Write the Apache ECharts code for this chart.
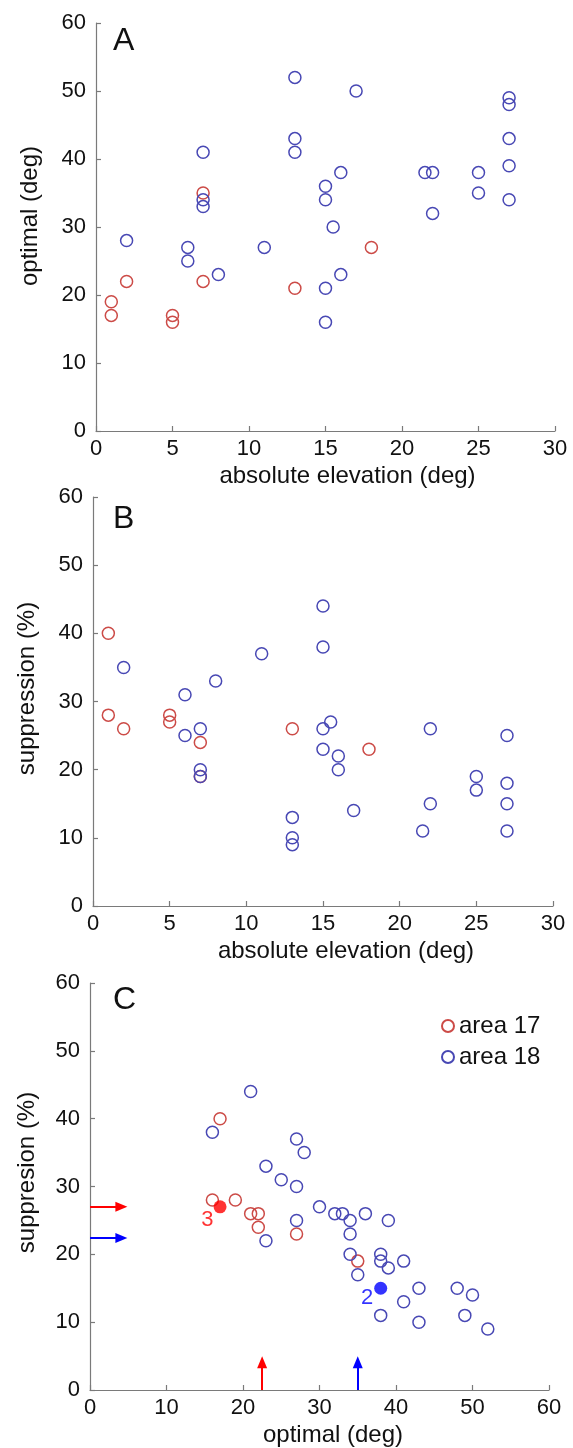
<!DOCTYPE html>
<html>
<head>
<meta charset="utf-8">
<script src="https://cdn.jsdelivr.net/npm/echarts@6/dist/echarts.min.js"></script>
<style>
html,body{margin:0;padding:0;background:#fff;}
#chart{width:573px;height:1448px;}
</style>
</head>
<body>
<div id="chart"></div>
<script>
// ---------- data ----------
// Panel A : absolute elevation vs optimal
const elevA17 = [1, 1, 2, 5, 5, 7, 7, 13, 18];
const optA17  = [19, 17, 22, 17, 16, 35, 22, 21, 27];
const elevA18 = [2, 6, 6, 7, 7, 7, 8, 11, 13, 13, 13, 15, 15, 15, 15, 15.5, 16, 16, 17, 21.5, 22, 22, 25, 25, 27, 27, 27, 27, 27];
const optA18  = [28, 27, 25, 41, 34, 33, 23, 27, 52, 43, 41, 36, 34, 21, 16, 30, 38, 23, 50, 38, 38, 32, 38, 35, 49, 48, 43, 39, 34];
// Panel B : absolute elevation vs suppression
const elevB17 = [1, 1, 2, 5, 5, 7, 7, 13, 18];
const suppB17 = [40, 28, 26, 28, 27, 24, 19, 26, 23];
const elevB18 = [2, 6, 6, 7, 7, 7, 8, 11, 13, 13, 13, 15, 15, 15, 15, 15.5, 16, 16, 17, 21.5, 22, 22, 25, 25, 27, 27, 27, 27];
const suppB18 = [35, 31, 25, 26, 20, 19, 33, 37, 13, 10, 9, 44, 38, 26, 23, 27, 22, 20, 14, 11, 26, 15, 19, 17, 25, 18, 15, 11];
// Panel C : optimal vs suppression
const optC17  = [16, 17, 19, 21, 22, 22, 27, 35];
const suppC17 = [28, 40, 28, 26, 26, 24, 23, 19];
const optC18  = [21, 16, 27, 28, 23, 25, 27, 23, 27, 30, 32, 33, 34, 36, 39, 34, 34, 35, 38, 38, 39, 41, 43, 41, 38, 43, 48, 50, 49, 52];
const suppC18 = [44, 38, 37, 35, 33, 31, 30, 22, 25, 27, 26, 26, 25, 26, 25, 23, 20, 17, 20, 19, 18, 19, 15, 13, 11, 10, 15, 14, 11, 9];
// example cells (filled)
const exampleOpt   = [17, 38];
const exampleSupp  = [27, 15];
const exampleLabel = ['3', '2'];
// arrows: population values (area 17, area 18)
const arrowSupp = [27, 22.4];
const arrowOpt  = [22.5, 35];
// tick labels / titles
const panelLetters = ['A', 'B', 'C'];
const legendNames = ['area 17', 'area 18'];

// ---------- styling ----------
const FONT = "'Liberation Sans', Arial, Helvetica, sans-serif";
const RED = '#cc4b47';
const BLUE = '#4848b4';
const RED_F = '#ff0000';
const BLUE_F = '#0000ff';
const AXIS = '#7a7a7a';

const zip = (a, b) => a.map((v, i) => [v, b[i]]);

function xAx(idx, max, interval, name, padLeft) {
  return {
    type: 'value', gridIndex: idx, min: 0, max: max, interval: interval,
    name: name, nameLocation: 'middle', nameGap: 33,
    nameTextStyle: { fontFamily: FONT, fontSize: 24, color: '#111', padding: [0, 0, 0, padLeft] },
    axisLine: { show: true, onZero: false, lineStyle: { color: AXIS, width: 1.2 } },
    axisTick: { show: true, inside: true, length: 5, lineStyle: { color: AXIS, width: 1.2 } },
    axisLabel: { fontFamily: FONT, fontSize: 22, color: '#111', margin: 7 },
    splitLine: { show: false }
  };
}
function yAx(idx, name, gap, padLeft) {
  return {
    type: 'value', gridIndex: idx, min: 0, max: 60, interval: 10,
    name: name, nameLocation: 'middle', nameGap: gap, nameRotate: 90,
    nameTextStyle: { fontFamily: FONT, fontSize: 24, color: '#111', padding: [0, 0, 0, padLeft] },
    axisLine: { show: true, onZero: false, lineStyle: { color: AXIS, width: 1.2 } },
    axisTick: { show: true, inside: true, length: 5, lineStyle: { color: AXIS, width: 1.2 } },
    axisLabel: { fontFamily: FONT, fontSize: 22, color: '#111', margin: 10 },
    splitLine: { show: false }
  };
}
function sc(name, idx, data, color) {
  return {
    type: 'scatter', name: name, xAxisIndex: idx, yAxisIndex: idx, data: data,
    symbol: 'circle', symbolSize: 12,
    itemStyle: { color: 'rgba(255,255,255,0)', borderColor: color, borderWidth: 1.5, opacity: 1 },
    emphasis: { disabled: true }, silent: true
  };
}

const arrowStyle = c => ({ color: c, width: 2, type: 'solid' });

const option = {
  animation: false,
  backgroundColor: '#fff',
  grid: [
    { left: 96, top: 23, width: 459, height: 408 },
    { left: 93, top: 497, width: 460, height: 409 },
    { left: 90, top: 983, width: 459, height: 408 }
  ],
  xAxis: [
    xAx(0, 30, 5, 'absolute elevation (deg)', 44),
    xAx(1, 30, 5, 'absolute elevation (deg)', 46),
    xAx(2, 60, 10, 'optimal (deg)', 27)
  ],
  yAxis: [
    yAx(0, 'optimal (deg)', 54, 22),
    yAx(1, 'suppression (%)', 54, 26),
    yAx(2, 'suppresion (%)', 51, 28)
  ],
  legend: {
    orient: 'vertical', left: 436, top: 1009, itemWidth: 12, itemHeight: 12, itemGap: 7,
    textStyle: { fontFamily: FONT, fontSize: 24, color: '#111' },
    data: legendNames, selectedMode: false
  },
  graphic: panelLetters.map((t, i) => ({
    type: 'text', x: 113, y: [41.5, 519, 1000][i],
    style: { text: t, font: '32px ' + FONT, fill: '#111', verticalAlign: 'middle', align: 'left' }
  })),
  series: [
    sc(legendNames[0], 0, zip(elevA17, optA17), RED),
    sc(legendNames[1], 0, zip(elevA18, optA18), BLUE),
    sc(legendNames[0], 1, zip(elevB17, suppB17), RED),
    sc(legendNames[1], 1, zip(elevB18, suppB18), BLUE),
    sc(legendNames[0], 2, zip(optC17, suppC17), RED),
    sc(legendNames[1], 2, zip(optC18, suppC18), BLUE),
    {
      type: 'scatter', name: 'example cells', xAxisIndex: 2, yAxisIndex: 2, silent: true,
      symbol: 'circle', symbolSize: 13,
      data: exampleOpt.map((v, i) => ({
        value: [v, exampleSupp[i]],
        itemStyle: { color: i === 0 ? RED_F : BLUE_F },
        label: {
          show: true, formatter: exampleLabel[i], position: 'left', distance: 4,
          offset: i === 0 ? [4, 13] : [3, 10],
          fontFamily: FONT, fontSize: 22, color: i === 0 ? RED_F : BLUE_F
        }
      })),
      markLine: {
        silent: true, animation: false,
        symbol: ['none', 'triangle'], symbolSize: [10, 12],
        label: { show: false },
        emphasis: { disabled: true },
        data: [
          [{ coord: [0, arrowSupp[0]], lineStyle: arrowStyle(RED_F) }, { coord: [4.1, arrowSupp[0]] }],
          [{ coord: [0, arrowSupp[1]], lineStyle: arrowStyle(BLUE_F) }, { coord: [4.1, arrowSupp[1]] }],
          [{ coord: [arrowOpt[0], 0], lineStyle: arrowStyle(RED_F) }, { coord: [arrowOpt[0], 4.1] }],
          [{ coord: [arrowOpt[1], 0], lineStyle: arrowStyle(BLUE_F) }, { coord: [arrowOpt[1], 4.1] }]
        ]
      }
    }
  ]
};

const chart = echarts.init(document.getElementById('chart'), null, { renderer: 'canvas' });
chart.setOption(option);
</script>
</body>
</html>
